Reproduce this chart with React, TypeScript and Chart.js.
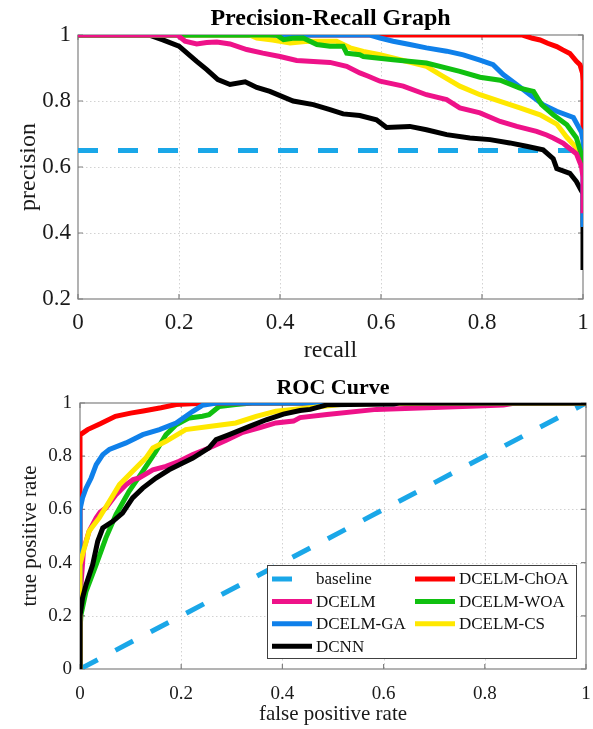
import React, { useEffect, useRef } from "react";
import { Chart, registerables } from "chart.js";
Chart.register(...registerables);

const FONT = "'Liberation Serif', 'Times New Roman', serif";
type Pt = [number, number];

// ---------- labels / colours ----------
const seriesLabels = ["baseline", "DCELM-ChOA", "DCELM", "DCELM-WOA", "DCELM-GA", "DCELM-CS", "DCNN"];
const seriesColors = ["#1aa7e8", "#ff0000", "#ee1289", "#10c010", "#0f80ea", "#ffe800", "#000000"];
// drawing order (1 = on top)
const prZ = [7, 6, 1, 2, 4, 3, 5];
const rocZ = [7, 4, 5, 6, 3, 2, 1];

const tickValues = [0, 0.2, 0.4, 0.6, 0.8, 1];

// ---------- Precision-Recall data (recall, precision) ----------
const prBaseline: Pt[] = [[0, 0.65], [1, 0.65]];
const prChOA: Pt[] = [[0, 1], [0.88, 1], [0.9, 0.99], [0.915, 0.985], [0.93, 0.975], [0.948, 0.965], [0.96, 0.955], [0.974, 0.944], [0.987, 0.92], [0.994, 0.91], [0.999, 0.885], [1, 0.86], [1, 0.712]];
const prDCELM: Pt[] = [[0, 1], [0.196, 1], [0.205, 0.99], [0.212, 0.981], [0.235, 0.973], [0.255, 0.977], [0.275, 0.979], [0.301, 0.973], [0.334, 0.956], [0.366, 0.945], [0.4, 0.935], [0.433, 0.923], [0.466, 0.92], [0.499, 0.917], [0.532, 0.905], [0.558, 0.885], [0.575, 0.875], [0.598, 0.86], [0.644, 0.845], [0.69, 0.819], [0.73, 0.804], [0.756, 0.779], [0.796, 0.764], [0.836, 0.738], [0.869, 0.723], [0.908, 0.708], [0.928, 0.697], [0.941, 0.688], [0.961, 0.672], [0.968, 0.663], [0.987, 0.64], [0.997, 0.601], [1, 0.57], [1, 0.46]];
const prWOA: Pt[] = [[0, 1], [0.393, 1], [0.407, 0.986], [0.425, 0.99], [0.446, 0.991], [0.473, 0.971], [0.499, 0.966], [0.525, 0.966], [0.532, 0.945], [0.558, 0.94], [0.565, 0.935], [0.624, 0.925], [0.69, 0.915], [0.756, 0.89], [0.796, 0.872], [0.836, 0.863], [0.875, 0.839], [0.902, 0.829], [0.918, 0.789], [0.941, 0.758], [0.968, 0.728], [0.987, 0.688], [0.997, 0.637], [1, 0.6], [1, 0.58]];
const prGA: Pt[] = [[0, 1], [0.578, 1], [0.598, 0.991], [0.624, 0.981], [0.657, 0.971], [0.69, 0.961], [0.73, 0.951], [0.763, 0.94], [0.796, 0.924], [0.822, 0.91], [0.842, 0.88], [0.869, 0.849], [0.895, 0.819], [0.921, 0.789], [0.948, 0.769], [0.981, 0.75], [0.997, 0.705], [1, 0.68], [1, 0.418]];
const prCS: Pt[] = [[0, 1], [0.34, 1], [0.354, 0.991], [0.385, 0.985], [0.42, 0.976], [0.45, 0.98], [0.473, 0.981], [0.512, 0.981], [0.539, 0.961], [0.565, 0.95], [0.598, 0.94], [0.638, 0.925], [0.69, 0.905], [0.717, 0.88], [0.756, 0.845], [0.796, 0.819], [0.836, 0.799], [0.875, 0.779], [0.915, 0.758], [0.948, 0.73], [0.968, 0.69], [0.987, 0.658], [0.997, 0.62], [1, 0.6]];
const prDCNN: Pt[] = [[0, 1], [0.14, 1], [0.168, 0.985], [0.2, 0.966], [0.235, 0.92], [0.255, 0.895], [0.277, 0.865], [0.301, 0.85], [0.331, 0.858], [0.354, 0.841], [0.38, 0.829], [0.426, 0.8], [0.466, 0.789], [0.499, 0.774], [0.525, 0.761], [0.558, 0.756], [0.591, 0.743], [0.611, 0.72], [0.657, 0.723], [0.69, 0.713], [0.73, 0.698], [0.776, 0.688], [0.816, 0.683], [0.855, 0.673], [0.888, 0.663], [0.921, 0.652], [0.941, 0.625], [0.948, 0.595], [0.974, 0.581], [0.987, 0.556], [0.996, 0.53], [1, 0.52], [1, 0.288]];

// ---------- ROC data (false positive rate, true positive rate) ----------
const rocBaseline: Pt[] = [[0, 0], [1, 1]];
const rocChOA: Pt[] = [[0, 0], [0, 0.6], [0, 0.88], [0.015, 0.9], [0.04, 0.922], [0.07, 0.95], [0.1, 0.962], [0.125, 0.97], [0.16, 0.982], [0.19, 0.994], [0.22, 0.997], [0.29, 1], [1, 1]];
const rocDCELM: Pt[] = [[0, 0], [0, 0.3], [0.002, 0.317], [0.007, 0.45], [0.012, 0.48], [0.018, 0.518], [0.032, 0.568], [0.04, 0.59], [0.051, 0.605], [0.071, 0.655], [0.091, 0.693], [0.105, 0.712], [0.117, 0.718], [0.144, 0.749], [0.17, 0.762], [0.196, 0.781], [0.223, 0.806], [0.255, 0.831], [0.289, 0.86], [0.322, 0.89], [0.356, 0.908], [0.387, 0.925], [0.422, 0.932], [0.435, 0.945], [0.488, 0.957], [0.586, 0.976], [0.685, 0.982], [0.784, 0.989], [0.837, 0.992], [0.86, 1], [1, 1]];
const rocWOA: Pt[] = [[0, 0], [0, 0.15], [0.002, 0.204], [0.012, 0.292], [0.032, 0.392], [0.051, 0.492], [0.071, 0.58], [0.097, 0.668], [0.124, 0.743], [0.15, 0.818], [0.17, 0.881], [0.19, 0.918], [0.216, 0.944], [0.242, 0.95], [0.255, 0.956], [0.275, 0.987], [0.308, 0.994], [0.34, 1], [1, 1]];
const rocGA: Pt[] = [[0, 0], [0, 0.4], [0, 0.6], [0.005, 0.643], [0.012, 0.68], [0.022, 0.718], [0.032, 0.768], [0.045, 0.806], [0.058, 0.825], [0.091, 0.85], [0.124, 0.881], [0.157, 0.9], [0.19, 0.925], [0.223, 0.969], [0.242, 0.991], [0.27, 1], [1, 1]];
const rocCS: Pt[] = [[0, 0], [0, 0.217], [0, 0.392], [0.005, 0.43], [0.018, 0.518], [0.038, 0.568], [0.058, 0.63], [0.078, 0.693], [0.104, 0.743], [0.13, 0.793], [0.144, 0.831], [0.17, 0.856], [0.209, 0.9], [0.255, 0.912], [0.308, 0.925], [0.348, 0.95], [0.387, 0.969], [0.435, 0.978], [0.52, 0.995], [0.62, 0.999], [0.7, 1], [1, 1]];
const rocDCNN: Pt[] = [[0, 0], [0, 0.2], [0.005, 0.267], [0.012, 0.317], [0.025, 0.392], [0.035, 0.48], [0.045, 0.53], [0.065, 0.555], [0.084, 0.586], [0.104, 0.643], [0.124, 0.68], [0.15, 0.718], [0.176, 0.749], [0.203, 0.774], [0.223, 0.793], [0.255, 0.831], [0.269, 0.862], [0.295, 0.881], [0.335, 0.912], [0.368, 0.937], [0.402, 0.958], [0.435, 0.972], [0.455, 0.976], [0.488, 0.993], [0.62, 0.996], [0.63, 1], [1, 1]];

const prSeries = [prBaseline, prChOA, prDCELM, prWOA, prGA, prCS, prDCNN];
const rocSeries = [rocBaseline, rocChOA, rocDCELM, rocWOA, rocGA, rocCS, rocDCNN];

// ---------- plugins ----------
const axesBoxPlugin = {
  id: "axesBox",
  beforeDatasetsDraw(chart: any) {
    const { ctx, chartArea: a, scales } = chart;
    const xs = scales.x, ys = scales.y;
    ctx.save();
    ctx.strokeStyle = "#d2d2d2";
    ctx.lineWidth = 1;
    ctx.setLineDash([1.5, 2.5]);
    xs.ticks.forEach((t: any) => {
      const p = Math.round(xs.getPixelForValue(t.value)) + 0.5;
      if (p > a.left + 2 && p < a.right - 2) {
        ctx.beginPath(); ctx.moveTo(p, a.top); ctx.lineTo(p, a.bottom); ctx.stroke();
      }
    });
    ys.ticks.forEach((t: any) => {
      const p = Math.round(ys.getPixelForValue(t.value)) + 0.5;
      if (p > a.top + 2 && p < a.bottom - 2) {
        ctx.beginPath(); ctx.moveTo(a.left, p); ctx.lineTo(a.right, p); ctx.stroke();
      }
    });
    ctx.setLineDash([]);
    ctx.strokeStyle = "#808080";
    ctx.lineWidth = 1.2;
    ctx.strokeRect(a.left, a.top, a.right - a.left, a.bottom - a.top);
    const tl = 5;
    ctx.beginPath();
    xs.ticks.forEach((t: any) => {
      const p = xs.getPixelForValue(t.value);
      ctx.moveTo(p, a.bottom); ctx.lineTo(p, a.bottom - tl);
      ctx.moveTo(p, a.top); ctx.lineTo(p, a.top + tl);
    });
    ys.ticks.forEach((t: any) => {
      const p = ys.getPixelForValue(t.value);
      ctx.moveTo(a.left, p); ctx.lineTo(a.left + tl, p);
      ctx.moveTo(a.right, p); ctx.lineTo(a.right - tl, p);
    });
    ctx.stroke();
    ctx.restore();
  },
};

// title centred over the plot area (MATLAB style)
const plotTitlePlugin = {
  id: "plotTitle",
  afterDraw(chart: any, _args: any, opts: any) {
    const { ctx, chartArea: a } = chart;
    ctx.save();
    ctx.font = `bold ${opts.size}px ${FONT}`;
    ctx.fillStyle = "#000";
    ctx.textAlign = "center";
    ctx.textBaseline = "middle";
    ctx.fillText(opts.text, (a.left + a.right) / 2, opts.y);
    ctx.restore();
  },
};

const legendBoxPlugin = {
  id: "legendBox",
  afterDatasetsDraw(chart: any) {
    const { ctx, chartArea: a } = chart;
    const boxW = 309, boxH = 93;
    const x0 = a.right - 10 - boxW;
    const y0 = a.bottom - 11 - boxH;
    ctx.save();
    ctx.fillStyle = "#ffffff";
    ctx.fillRect(x0, y0, boxW, boxH);
    ctx.strokeStyle = "#404040";
    ctx.lineWidth = 1;
    ctx.strokeRect(x0 + 0.5, y0 + 0.5, boxW, boxH);
    ctx.font = `17px ${FONT}`;
    ctx.textBaseline = "middle";
    ctx.textAlign = "left";
    chart.data.datasets.forEach((ds: any, i: number) => {
      const col = i % 2, row = Math.floor(i / 2);
      const lx = x0 + (col === 0 ? 5 : 148);
      const ly = y0 + 14 + row * 22.4;
      ctx.strokeStyle = ds.borderColor;
      ctx.lineWidth = 5;
      ctx.setLineDash(ds.borderDash || []);
      ctx.beginPath(); ctx.moveTo(lx, ly); ctx.lineTo(lx + 40, ly); ctx.stroke();
      ctx.setLineDash([]);
      ctx.fillStyle = "#111";
      ctx.fillText(ds.label, lx + 44, ly + 1);
    });
    ctx.restore();
  },
};

function makeDatasets(series: Pt[][], z: number[]) {
  return series.map((pts, i) => ({
    label: seriesLabels[i],
    data: pts.map(([x, y]) => ({ x, y })),
    borderColor: seriesColors[i],
    backgroundColor: seriesColors[i],
    borderWidth: 5,
    borderDash: i === 0 ? [20, 20] : [],
    pointRadius: 0,
    fill: false,
    tension: 0,
    order: z[i],
  }));
}

function axisCfg(opts: any) {
  return {
    type: "linear",
    min: opts.min,
    max: opts.max,
    grid: { display: false, drawTicks: false },
    border: { display: false },
    afterBuildTicks: (s: any) => {
      s.ticks = tickValues.filter((v) => v >= opts.min - 1e-9).map((v) => ({ value: v }));
    },
    ticks: {
      padding: opts.tickPad,
      color: "#1a1a1a",
      font: { family: FONT, size: opts.tickSize },
      maxRotation: 0,
      autoSkip: false,
      callback: (v: any) => String(Math.round(Number(v) * 10) / 10),
    },
    title: {
      display: true,
      text: opts.title,
      color: "#1a1a1a",
      font: { family: FONT, size: opts.titleSize },
      padding: opts.titlePad,
    },
    afterFit: (s: any) => {
      if (s.isHorizontal()) s.height = opts.size; else s.width = opts.size;
      s.paddingLeft = 0; s.paddingRight = 0; s.paddingTop = 0; s.paddingBottom = 0;
    },
  };
}

function buildPR(): any {
  return {
    type: "line",
    data: { datasets: makeDatasets(prSeries, prZ) },
    options: {
      responsive: false,
      animation: false,
      devicePixelRatio: 1,
      layout: { padding: { left: 0, right: 10, top: 35, bottom: 0 } },
      plugins: {
        legend: { display: false },
        tooltip: { enabled: false },
        title: { display: false },
        plotTitle: { text: "Precision-Recall Graph", size: 24, y: 18.5 },
      },
      scales: {
        x: axisCfg({ min: 0, max: 1, tickPad: 10, tickSize: 23, title: "recall", titleSize: 24, titlePad: { top: 0, bottom: 0 }, size: 66 }),
        y: axisCfg({ min: 0.2, max: 1, tickPad: 7, tickSize: 23, title: "precision", titleSize: 24, titlePad: { top: 14, bottom: 0 }, size: 78 }),
      },
    },
    plugins: [axesBoxPlugin, plotTitlePlugin],
  };
}

function buildROC(): any {
  return {
    type: "line",
    data: { datasets: makeDatasets(rocSeries, rocZ) },
    options: {
      responsive: false,
      animation: false,
      devicePixelRatio: 1,
      layout: { padding: { left: 0, right: 7, top: 38, bottom: 0 } },
      plugins: {
        legend: { display: false },
        tooltip: { enabled: false },
        title: { display: false },
        plotTitle: { text: "ROC Curve", size: 22, y: 23.5 },
      },
      scales: {
        x: axisCfg({ min: 0, max: 1, tickPad: 14, tickSize: 19, title: "false positive rate", titleSize: 21, titlePad: { top: 0, bottom: 2 }, size: 60 }),
        y: axisCfg({ min: 0, max: 1, tickPad: 8, tickSize: 19, title: "true positive rate", titleSize: 21, titlePad: { top: 18, bottom: 0 }, size: 80 }),
      },
    },
    plugins: [axesBoxPlugin, plotTitlePlugin, legendBoxPlugin],
  };
}

function ChartCanvas({ build, width, height }: { build: () => any; width: number; height: number }) {
  const ref = useRef<HTMLCanvasElement>(null);
  useEffect(() => {
    const chart = new Chart(ref.current as HTMLCanvasElement, build());
    return () => chart.destroy();
  }, [build]);
  return <canvas ref={ref} width={width} height={height} style={{ display: "block", width, height }} />;
}

export default function App() {
  return (
    <div style={{ position: "absolute", left: 0, top: 0, width: 593, height: 729, background: "#fff" }}>
      <ChartCanvas build={buildPR} width={593} height={365} />
      <ChartCanvas build={buildROC} width={593} height={364} />
    </div>
  );
}
